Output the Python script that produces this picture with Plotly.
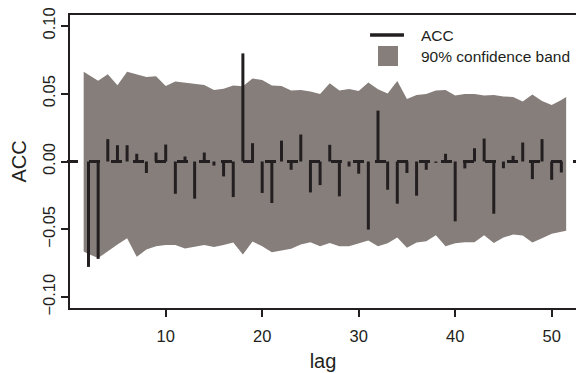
import plotly.graph_objects as go

# Autocorrelation coefficients by lag
lags = list(range(2, 52))
acc = [
    -0.0777, -0.0718, 0.0165, 0.0120, 0.0120, 0.0057, -0.0085, 0.0066, 0.0125,
    -0.0238, 0.0037, -0.0274, 0.0066, -0.0030, -0.0110, -0.0262, 0.0797,
    0.0135, -0.0232, -0.0306, 0.0154, -0.0061, 0.0199, -0.0228, -0.0174,
    0.0123, -0.0257, -0.0037, -0.0090, -0.0502, 0.0375, -0.0208, -0.0311,
    -0.0085, -0.0252, -0.0061, -0.0010, 0.0057, -0.0441, -0.0051, 0.0098,
    0.0169, -0.0385, -0.0050, 0.0042, 0.0140, -0.0130, 0.0165, -0.0135, -0.0081,
]

# 90% confidence band (upper / lower limits)
band_lags = [1.5] + list(range(2, 52)) + [51.5]
band_upper = [
    0.0662, 0.0641, 0.0596, 0.0643, 0.0562, 0.0662, 0.0641, 0.0623, 0.0628, 0.0557,
    0.0590, 0.0582, 0.0571, 0.0564, 0.0527, 0.0536, 0.0560, 0.0554, 0.0612, 0.0601,
    0.0560, 0.0557, 0.0524, 0.0527, 0.0516, 0.0498, 0.0576, 0.0524, 0.0535, 0.0520,
    0.0582, 0.0532, 0.0501, 0.0593, 0.0461, 0.0490, 0.0498, 0.0524, 0.0527, 0.0487,
    0.0498, 0.0498, 0.0487, 0.0490, 0.0479, 0.0476, 0.0443, 0.0494, 0.0446, 0.0417,
    0.0454, 0.0476,
]
band_lower = [
    -0.0664, -0.0682, -0.0712, -0.0664, -0.0612, -0.0565, -0.0703, -0.0649, -0.0625, -0.0616,
    -0.0616, -0.0642, -0.0627, -0.0616, -0.0631, -0.0616, -0.0598, -0.0686, -0.0590, -0.0625,
    -0.0669, -0.0657, -0.0644, -0.0612, -0.0596, -0.0625, -0.0600, -0.0625, -0.0625, -0.0605,
    -0.0583, -0.0625, -0.0602, -0.0561, -0.0635, -0.0598, -0.0588, -0.0543, -0.0625, -0.0603,
    -0.0596, -0.0596, -0.0543, -0.0601, -0.0561, -0.0539, -0.0546, -0.0598, -0.0565, -0.0532,
    -0.0517, -0.0510,
]

x_ticks = [10, 20, 30, 40, 50]
y_ticks = [-0.10, -0.05, 0.00, 0.05, 0.10]
y_ticktext = ["\u22120.10", "\u22120.05", "0.00", "0.05", "0.10"]

INK = "#231f20"
BAND = "#867e7b"
FONT = "Liberation Sans, Arial, sans-serif"

fig = go.Figure()

# confidence band polygon
fig.add_trace(go.Scatter(
    x=band_lags + band_lags[::-1],
    y=band_upper + band_lower[::-1],
    fill="toself", fillcolor=BAND, mode="lines",
    line=dict(width=0, color=BAND), hoverinfo="skip", showlegend=False,
))

# ACC spikes: vertical segments from zero to each coefficient
spike_x, spike_y = [], []
for lag, value in zip(lags, acc):
    spike_x += [lag, lag, None]
    spike_y += [0.0, value, None]
fig.add_trace(go.Scatter(
    x=spike_x, y=spike_y, mode="lines",
    line=dict(color=INK, width=3), hoverinfo="skip", showlegend=False,
))

# dashed zero reference line across the panel
fig.add_shape(type="line", xref="paper", yref="y", x0=-3 / 506, x1=1.0, y0=0, y1=0,
              line=dict(color=INK, width=2.8, dash="11px,11px"))

# hand-built legend
fig.add_shape(type="line", xref="paper", yref="paper", x0=0.593, x1=0.660,
              y0=0.9317, y1=0.9317, line=dict(color=INK, width=3.3))
fig.add_shape(type="rect", xref="paper", yref="paper", x0=0.6087, x1=0.6482,
              y0=0.8259, y1=0.8942, fillcolor=BAND, line=dict(width=0))
fig.add_annotation(xref="paper", yref="paper", x=0.6891, y=0.9317, text="ACC",
                   showarrow=False, xanchor="left", yanchor="middle",
                   font=dict(family=FONT, size=15.5, color=INK))
fig.add_annotation(xref="paper", yref="paper", x=0.6891, y=0.8567,
                   text="90% confidence band",
                   showarrow=False, xanchor="left", yanchor="middle",
                   font=dict(family=FONT, size=15.5, color=INK))

fig.update_layout(
    width=576, height=373,
    margin=dict(l=70, r=0, t=15, b=65),
    paper_bgcolor="white", plot_bgcolor="white",
    showlegend=False,
    font=dict(family=FONT, color=INK),
)
fig.update_xaxes(
    range=[0.083, 52.52], tickvals=x_ticks, ticks="outside", ticklen=7,
    tickwidth=1.5, tickcolor=INK, showline=True, linecolor=INK, linewidth=1.5,
    mirror=True, showgrid=False, zeroline=False, ticklabelstandoff=5,
    tickfont=dict(size=16.5, family=FONT, color=INK),
    title=dict(text="lag", font=dict(size=20, family=FONT, color=INK), standoff=10),
)
fig.update_yaxes(
    range=[-0.108, 0.108], tickvals=y_ticks, ticktext=y_ticktext, tickangle=-90,
    ticks="outside", ticklen=7, tickwidth=1.5, tickcolor=INK, showline=True,
    linecolor=INK, linewidth=1.5, showgrid=False, zeroline=False,
    tickfont=dict(size=16.5, family=FONT, color=INK),
    title=dict(text="ACC", font=dict(size=20, family=FONT, color=INK), standoff=8),
)

fig.write_html("out.html")
